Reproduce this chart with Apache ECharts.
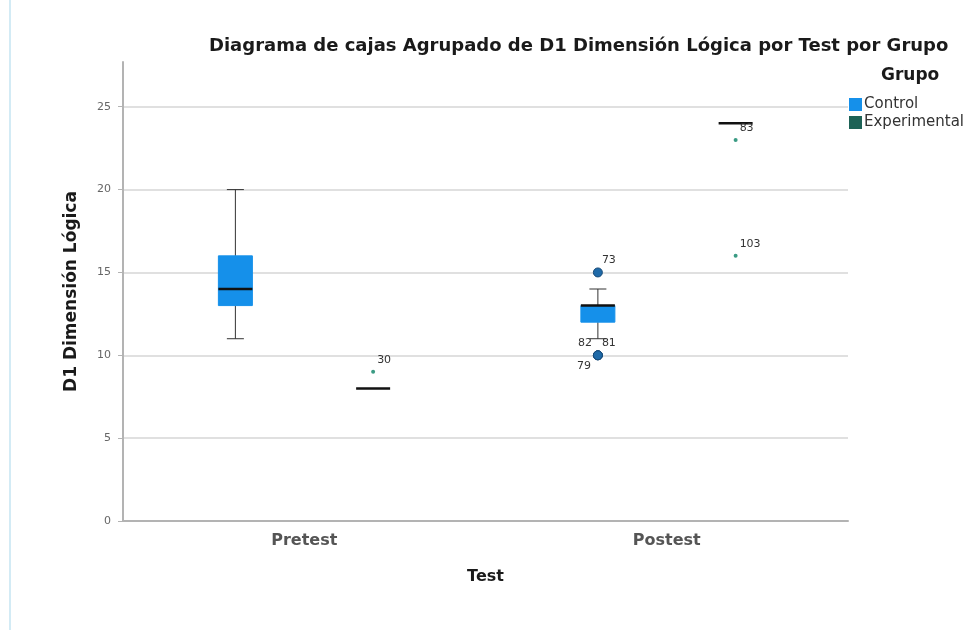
<!DOCTYPE html>
<html>
<head>
<meta charset="utf-8">
<script src="https://cdn.jsdelivr.net/npm/echarts@6/dist/echarts.min.js"></script>
<style>html,body{margin:0;padding:0;background:#fff}#c{width:972px;height:630px}</style>
</head>
<body>
<div id="c"></div>
<script>
// ---- data ----
const categories = ['Pretest', 'Postest'];
const groups = ['Control', 'Experimental'];
// [min, Q1, median, Q3, max] per category
const controlBox = [[11, 13, 14, 16, 20], [11, 12, 13, 13, 14]];
const experimentalBox = [[8, 8, 8, 8, 8], [24, 24, 24, 24, 24]];
// [category, value, case label]
const controlOutliers = [['Postest', 15, '73'], ['Postest', 10, '82'], ['Postest', 10, '81'], ['Postest', 10, '79']];
const experimentalOutliers = [['Pretest', 9, '30'], ['Postest', 23, '83'], ['Postest', 16, '103']];
const yTicks = [0, 5, 10, 15, 20, 25];

// ---- style ----
const colors = { Control: '#1590ea', Experimental: '#1d6256' };
const groupOffset = { Control: -0.19, Experimental: 0.19 };
const labelSide = { '73': 'tr', '82': 'tl', '81': 'tr', '79': 'bl', '30': 'tr', '83': 'tr', '103': 'tr' };
const FONT = 'DejaVu Sans';

function boxRenderer(group) {
  return function (params, api) {
    const cat = api.value(0);
    const band = api.size([1, 0])[0];
    const cx = api.coord([cat, 0])[0] + groupOffset[group] * band;
    const y = i => api.coord([cat, api.value(i)])[1];
    const yMin = y(1), yQ1 = y(2), yMed = y(3), yQ3 = y(4), yMax = y(5);
    const w = 34, cap = 17;
    const ls = { stroke: '#333', lineWidth: 1 };
    const children = [];
    if (yMin !== yQ1) {
      children.push({ type: 'line', shape: { x1: cx, y1: yQ1, x2: cx, y2: yMin }, style: ls });
      children.push({ type: 'line', shape: { x1: cx - cap / 2, y1: yMin, x2: cx + cap / 2, y2: yMin }, style: ls });
    }
    if (yMax !== yQ3) {
      children.push({ type: 'line', shape: { x1: cx, y1: yQ3, x2: cx, y2: yMax }, style: ls });
      children.push({ type: 'line', shape: { x1: cx - cap / 2, y1: yMax, x2: cx + cap / 2, y2: yMax }, style: ls });
    }
    if (yQ1 !== yQ3) {
      children.push({ type: 'rect', shape: { x: cx - w / 2, y: yQ3, width: w, height: yQ1 - yQ3 },
        style: { fill: colors[group], stroke: colors[group], lineWidth: 1 } });
    }
    children.push({ type: 'line', shape: { x1: cx - w / 2, y1: yMed, x2: cx + w / 2, y2: yMed },
      style: { stroke: '#111', lineWidth: 2.5 } });
    return { type: 'group', children: children };
  };
}

const outlierLabels = {
  Control: controlOutliers.map(d => d[2]),
  Experimental: experimentalOutliers.map(d => d[2])
};

function outlierRenderer(group, big) {
  return function (params, api) {
    const cat = api.value(0);
    const band = api.size([1, 0])[0];
    const p = api.coord([cat, api.value(1)]);
    const cx = p[0] + groupOffset[group] * band;
    const cy = p[1];
    const lbl = outlierLabels[group][params.dataIndex];
    const side = labelSide[lbl] || 'tr';
    let tx, ty, align;
    if (side === 'tr') { tx = cx + 4; ty = cy - 12; align = 'left'; }
    else if (side === 'tl') { tx = cx - 6; ty = cy - 12; align = 'right'; }
    else { tx = cx - 7; ty = cy + 11; align = 'right'; }
    const marker = big
      ? { type: 'circle', shape: { cx: cx, cy: cy, r: 4.5 }, style: { fill: '#1f6aa8', stroke: '#174a78', lineWidth: 1 } }
      : { type: 'circle', shape: { cx: cx, cy: cy, r: 2 }, style: { fill: '#3b9b84' } };
    return {
      type: 'group',
      children: [
        marker,
        { type: 'text', style: { text: lbl, x: tx, y: ty, align: align, verticalAlign: 'middle',
          fill: '#333', font: '11px "' + FONT + '"' } }
      ]
    };
  };
}

const chart = echarts.init(document.getElementById('c'), null, { renderer: 'canvas' });
chart.setOption({
  animation: false,
  backgroundColor: '#fff',
  textStyle: { fontFamily: FONT },
  title: [
    { text: 'Diagrama de cajas Agrupado de D1 Dimensión Lógica por Test por Grupo',
      left: 209, top: 37, padding: 0,
      textStyle: { fontSize: 18, fontWeight: 'bold', color: '#1a1a1a', fontFamily: FONT } },
    { text: 'Grupo', left: 881, top: 67, padding: 0,
      textStyle: { fontSize: 17, fontWeight: 'bold', color: '#1a1a1a', fontFamily: FONT } }
  ],
  legend: {
    data: groups, orient: 'vertical', left: 849, top: 97, padding: 0,
    icon: 'rect', itemWidth: 13, itemHeight: 13, itemGap: 3,
    textStyle: { fontSize: 15, color: '#333', fontFamily: FONT, padding: [0, 0, 0, -3] }
  },
  graphic: [
    { type: 'rect', left: 9, top: 0, shape: { width: 2, height: 630 }, style: { fill: '#d3ebf5' } }
  ],
  grid: { left: 123, right: 124, top: 62, bottom: 109 },
  xAxis: {
    type: 'category', data: categories, boundaryGap: true,
    name: 'Test', nameLocation: 'middle', nameGap: 48,
    nameTextStyle: { fontSize: 16, fontWeight: 'bold', color: '#1a1a1a', fontFamily: FONT },
    axisLine: { lineStyle: { color: '#b3b3b3', width: 2 } },
    axisTick: { show: false },
    axisLabel: { fontSize: 16, fontWeight: 'bold', color: '#555', margin: 12, fontFamily: FONT },
    splitLine: { show: false }
  },
  yAxis: {
    type: 'value', min: 0, max: 27.7, interval: 5,
    name: 'D1 Dimensión Lógica', nameLocation: 'middle', nameGap: 43,
    nameTextStyle: { fontSize: 17, fontWeight: 'bold', color: '#1a1a1a', fontFamily: FONT },
    axisLine: { show: true, lineStyle: { color: '#b3b3b3', width: 2 } },
    axisTick: { show: true, length: 5, customValues: yTicks, lineStyle: { color: '#b3b3b3' } },
    axisLabel: { fontSize: 11, color: '#666', margin: 12, customValues: yTicks, fontFamily: FONT },
    splitLine: { show: true, lineStyle: { color: '#d6d6d6', width: 1.5 } }
  },
  series: [
    { name: 'Control', type: 'custom', itemStyle: { color: colors.Control },
      renderItem: boxRenderer('Control'), encode: { x: 0, y: [1, 2, 3, 4, 5] },
      data: controlBox.map((d, i) => [i].concat(d)) },
    { name: 'Experimental', type: 'custom', itemStyle: { color: colors.Experimental },
      renderItem: boxRenderer('Experimental'), encode: { x: 0, y: [1, 2, 3, 4, 5] },
      data: experimentalBox.map((d, i) => [i].concat(d)) },
    { name: 'Control atípicos', type: 'custom', z: 5,
      renderItem: outlierRenderer('Control', true), encode: { x: 0, y: 1 },
      data: controlOutliers.map(d => [categories.indexOf(d[0]), d[1]]) },
    { name: 'Experimental extremos', type: 'custom', z: 5,
      renderItem: outlierRenderer('Experimental', false), encode: { x: 0, y: 1 },
      data: experimentalOutliers.map(d => [categories.indexOf(d[0]), d[1]]) }
  ]
});
</script>
</body>
</html>
